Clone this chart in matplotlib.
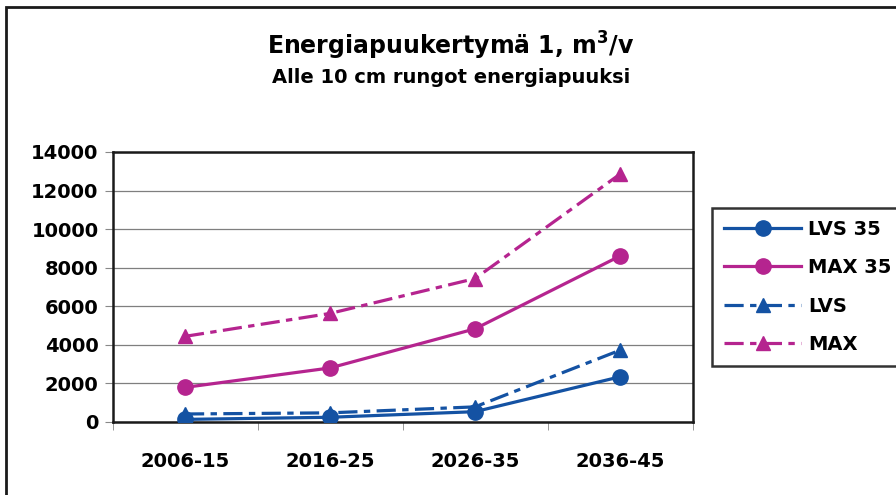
import matplotlib.pyplot as plt
import numpy as np
from matplotlib.patches import Rectangle

# ========= DATA =========
kaudet = ["2006-15", "2016-25", "2026-35", "2036-45"]
lvs35 = [120, 230, 520, 2330]
max35 = [1780, 2790, 4820, 8600]
lvs = [400, 460, 770, 3710]
maxx = [4430, 5620, 7430, 12850]

sininen = "#1452A3"
violetti = "#B5248F"

plt.rcParams['font.family'] = ['DejaVu Sans']
plt.rcParams['font.weight'] = 'bold'
plt.rcParams['mathtext.default'] = 'bf'

fig = plt.figure(figsize=(8.96, 4.95), dpi=100)
ax = fig.add_axes([112.5 / 896, 1 - 421.7 / 495, 580 / 896, 269.7 / 495])

x = np.arange(len(kaudet))
katko = (0, (6, 2, 2, 2))
ax.plot(x, lvs35, color=sininen, lw=2.3, marker='o', ms=11, label="LVS 35", zorder=4)
ax.plot(x, max35, color=violetti, lw=2.3, marker='o', ms=11, label="MAX 35", zorder=4)
ax.plot(x, lvs, color=sininen, lw=2.3, ls=katko, marker='^', ms=9.5, label="LVS", zorder=3)
ax.plot(x, maxx, color=violetti, lw=2.3, ls=katko, marker='^', ms=9.5, label="MAX", zorder=3)

ax.set_xlim(-0.5, 3.5)
ax.set_ylim(0, 14000)
ax.set_yticks(range(0, 14001, 2000))
ax.set_xticks(x)
ax.set_xticklabels(kaudet)
ax.set_xticks(np.arange(-0.5, 3.6, 1), minor=True)
ax.tick_params(axis='x', which='major', length=0, pad=22, labelsize=14)
ax.tick_params(axis='x', which='minor', length=6, color='#888888')
ax.tick_params(axis='y', length=6, color='#888888', labelsize=14, pad=4)
for lbl in ax.get_xticklabels() + ax.get_yticklabels():
    lbl.set_fontweight('bold')
ax.grid(axis='y', color='#7f7f7f', lw=0.9)
ax.set_axisbelow(True)
for s in ax.spines.values():
    s.set_color('#1a1a1a')
    s.set_linewidth(1.8)

leg = fig.legend(loc='upper left', bbox_to_anchor=(712 / 896, 1 - 208 / 495),
                 prop={'weight': 'bold', 'size': 14}, frameon=True, fancybox=False,
                 edgecolor='black', handlelength=4.0, labelspacing=1.0,
                 borderpad=0.6, handletextpad=0.35, borderaxespad=0)
leg.get_frame().set_linewidth(1.8)

fig.text(0.503, 0.908, "Energiapuukertymä 1, m$^{3}$/v", ha='center', va='center',
         fontsize=17, fontweight='bold')
fig.text(0.503, 0.843, "Alle 10 cm rungot energiapuuksi", ha='center', va='center',
         fontsize=14, fontweight='bold')

# ulkoreunus
fig.patches.append(Rectangle((6 / 896, -0.1), 1.2, 1 - 7 / 495 + 0.1, transform=fig.transFigure,
                             fill=False, edgecolor='#1a1a1a', lw=2))

fig.savefig("out.png", dpi=100)
